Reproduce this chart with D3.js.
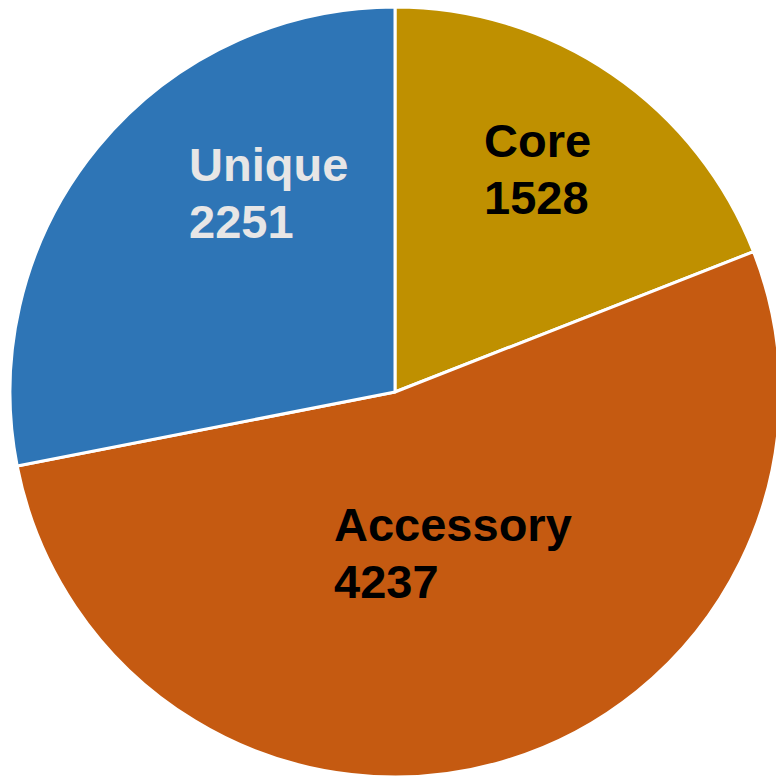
<!DOCTYPE html>
<html>
<head>
<meta charset="utf-8">
<script src="https://cdn.jsdelivr.net/npm/d3@7"></script>
<style>
html,body{margin:0;padding:0;background:#fff;overflow:hidden;}
svg{display:block;}
text{font-family:"Liberation Sans",Arial,sans-serif;font-weight:bold;}
</style>
</head>
<body>
<svg id="chart" width="776" height="777"></svg>
<script>
const categories = ["Core", "Accessory", "Unique"];
const values = [1528, 4237, 2251];
const colors = ["#BF9000", "#C55A11", "#2E75B6"];
const labelColors = ["#000000", "#000000", "#E7E6E6"];
const labelPos = [[484, 157], [334, 541], [189, 181]];

const svg = d3.select("#chart");
const cx = 395, cy = 392, radius = 385;
const g = svg.append("g").attr("transform", `translate(${cx},${cy})`);

const pie = d3.pie().sort(null).value(d => d.value);
const arc = d3.arc().innerRadius(0).outerRadius(radius);
const data = categories.map((c, i) => ({name: c, value: values[i], i}));

g.selectAll("path").data(pie(data)).join("path")
  .attr("d", arc)
  .attr("fill", d => colors[d.data.i])
  .attr("stroke", "#fff")
  .attr("stroke-width", 3)
  .attr("stroke-linejoin", "round");

const labels = svg.selectAll("text.lbl").data(data).join("text")
  .attr("class", "lbl")
  .attr("x", d => labelPos[d.i][0])
  .attr("y", d => labelPos[d.i][1])
  .attr("fill", d => labelColors[d.i])
  .style("font-size", "47px");
labels.append("tspan").attr("x", d => labelPos[d.i][0]).text(d => d.name);
labels.append("tspan").attr("x", d => labelPos[d.i][0]).attr("dy", 57).text(d => d.value);
</script>
</body>
</html>
